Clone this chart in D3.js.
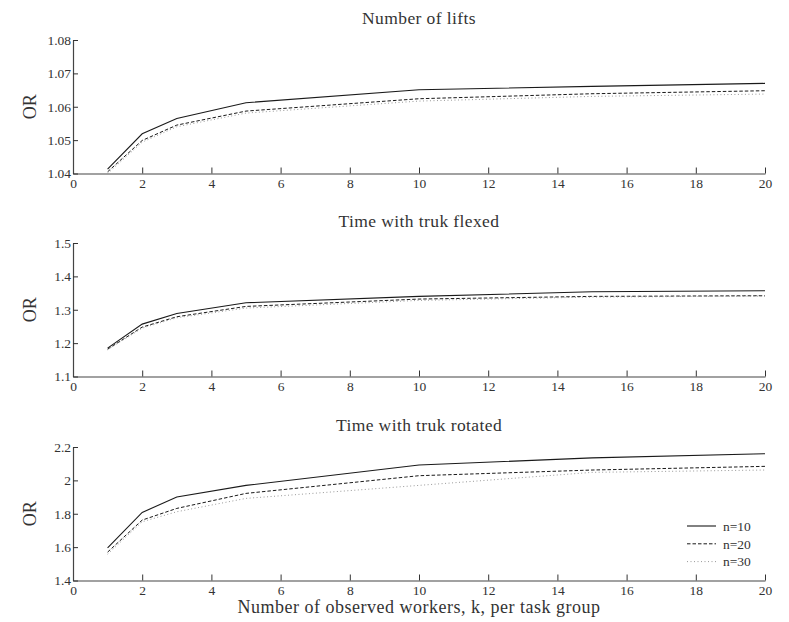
<!DOCTYPE html>
<html>
<head>
<meta charset="utf-8">
<script src="https://cdn.jsdelivr.net/npm/d3@7"></script>
<style>
  body { margin: 0; background: #fff; }
  text { font-family: "Liberation Serif", "DejaVu Serif", serif; fill: #333; }
</style>
</head>
<body>
<div id="plot"></div>
<script>
// Observed workers per task group
var k = [1, 2, 3, 5, 10, 15, 20];
var xTicks = [0, 2, 4, 6, 8, 10, 12, 14, 16, 18, 20];
var seriesNames = ["n=10", "n=20", "n=30"];
var panelTitles = ["Number of lifts", "Time with truk flexed", "Time with truk rotated"];

// Number of lifts
var lifts_n10 = [1.0413, 1.0519, 1.0565, 1.0612, 1.0651, 1.0661, 1.0670];
var lifts_n20 = [1.0405, 1.0499, 1.0545, 1.0587, 1.0624, 1.0639, 1.0648];
var lifts_n30 = [1.0400, 1.0494, 1.0540, 1.0581, 1.0617, 1.0631, 1.0638];
var liftsTicks = [1.04, 1.05, 1.06, 1.07, 1.08];

// Time with trunk flexed
var flexed_n10 = [1.185, 1.257, 1.289, 1.321, 1.340, 1.354, 1.357];
var flexed_n20 = [1.182, 1.248, 1.279, 1.310, 1.332, 1.340, 1.342];
var flexed_n30 = [1.180, 1.245, 1.276, 1.305, 1.328, 1.338, 1.341];
var flexedTicks = [1.1, 1.2, 1.3, 1.4, 1.5];

// Time with trunk rotated
var rotated_n10 = [1.596, 1.808, 1.900, 1.970, 2.092, 2.135, 2.160];
var rotated_n20 = [1.570, 1.762, 1.832, 1.922, 2.028, 2.062, 2.084];
var rotated_n30 = [1.558, 1.752, 1.812, 1.892, 1.970, 2.048, 2.062];
var rotatedTicks = [1.4, 1.6, 1.8, 2, 2.2];

var panels = [
  {title: panelTitles[0], series: [lifts_n10, lifts_n20, lifts_n30], ticks: liftsTicks, fmt: d3.format(".2f"), top: 40},
  {title: panelTitles[1], series: [flexed_n10, flexed_n20, flexed_n30], ticks: flexedTicks, fmt: d3.format(".1f"), top: 243},
  {title: panelTitles[2], series: [rotated_n10, rotated_n20, rotated_n30], ticks: rotatedTicks, fmt: function(d){ return d3.format("~g")(d); }, top: 447}
];

var width = 789, height = 622,
    left = 73, right = 765, panelH = 133.5;

var styles = [
  {stroke: "#1a1a1a", dash: null, width: 1.1},
  {stroke: "#1a1a1a", dash: "3.5,2", width: 1},
  {stroke: "#999", dash: "1,2.5", width: 1}
];

var svg = d3.select("#plot")
  .append("svg")
  .attr("width", width)
  .attr("height", height);

var x = d3.scaleLinear().domain([0, 20]).range([left, right]);

panels.forEach(function(p){
  var y = d3.scaleLinear()
    .domain([p.ticks[0], p.ticks[p.ticks.length - 1]])
    .range([p.top + panelH, p.top]);

  var g = svg.append("g");

  // x axis with inward ticks
  var xa = g.append("g")
    .attr("transform", "translate(0," + (p.top + panelH) + ")")
    .call(d3.axisBottom(x).tickValues(xTicks).tickSizeInner(-6).tickSizeOuter(0).tickPadding(5));
  xa.select(".domain").attr("stroke", "#444").attr("stroke-width", 1.2);
  xa.selectAll(".tick line").attr("stroke", "#333");
  xa.selectAll(".tick text").style("font-size", "13.5px").attr("fill", "#555");

  // y axis with inward ticks
  var ya = g.append("g")
    .attr("transform", "translate(" + left + ",0)")
    .call(d3.axisLeft(y).tickValues(p.ticks).tickFormat(p.fmt).tickSizeInner(-5).tickSizeOuter(0).tickPadding(2));
  ya.select(".domain").attr("stroke", "#444").attr("stroke-width", 1.2);
  ya.selectAll(".tick line").attr("stroke", "#333");
  ya.selectAll(".tick text").style("font-size", "13.5px").attr("fill", "#555");

  g.append("text")
    .attr("x", (left + right) / 2)
    .attr("y", p.top - 16)
    .attr("text-anchor", "middle")
    .style("font-size", "17.5px")
    .style("letter-spacing", "0.4px")
    .text(p.title);

  g.append("text")
    .attr("transform", "translate(36," + (p.top + panelH / 2) + ") rotate(-90)")
    .attr("text-anchor", "middle")
    .style("font-size", "18px")
    .text("OR");

  var line = d3.line()
    .x(function(d, i){ return x(k[i]); })
    .y(function(d){ return y(d); });

  p.series.forEach(function(s, i){
    g.append("path")
      .datum(s)
      .attr("fill", "none")
      .attr("stroke", styles[i].stroke)
      .attr("stroke-width", styles[i].width)
      .attr("stroke-dasharray", styles[i].dash)
      .attr("d", line);
  });
});

// Legend
var legend = svg.append("g")
  .selectAll("g")
  .data(seriesNames)
  .enter().append("g")
  .attr("transform", function(d, i){ return "translate(687," + (526 + i * 17.8) + ")"; });

legend.append("line")
  .attr("x1", 0).attr("x2", 29)
  .attr("stroke", function(d, i){ return styles[i].stroke; })
  .attr("stroke-width", function(d, i){ return styles[i].width; })
  .attr("stroke-dasharray", function(d, i){ return styles[i].dash; });

legend.append("text")
  .attr("x", 36)
  .attr("dy", "0.35em")
  .style("font-size", "13.5px")
  .text(function(d){ return d; });

// x axis title
svg.append("text")
  .attr("x", (left + right) / 2)
  .attr("y", 613)
  .attr("text-anchor", "middle")
  .style("font-size", "18px")
  .style("letter-spacing", "0.5px")
  .text("Number of observed workers, k, per task group");
</script>
</body>
</html>
